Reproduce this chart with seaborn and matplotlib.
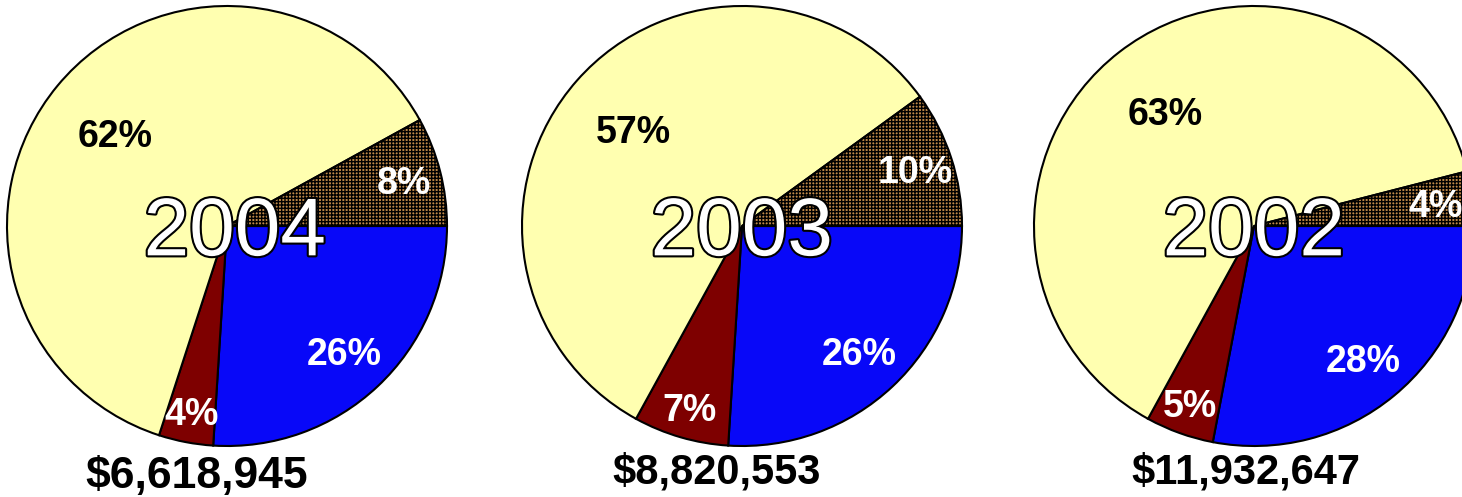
import matplotlib
matplotlib.use("Agg")
import matplotlib.pyplot as plt
import matplotlib.patheffects as pe
import seaborn as sns
import numpy as np

# ---- data ----
years = ["2004", "2003", "2002"]
totals = ["$6,618,945", "$8,820,553", "$11,932,647"]
slice_names = ["Blue", "Red", "Yellow", "Brown"]
share_2004 = [26, 4, 62, 8]
share_2003 = [26, 7, 57, 10]
share_2002 = [28, 5, 63, 4]
shares = [share_2004, share_2003, share_2002]

# ---- style ----
sns.set_theme(style="white")
plt.rcParams["font.family"] = ["Liberation Sans", "DejaVu Sans"]
plt.rcParams["hatch.linewidth"] = 1.0

colors = ["#0808F8", "#7E0000", "#FFFFB0", "#C08848"]
label_colors = ["white", "white", "black", "white"]
label_dist = [0.78, 0.86, 0.66, 0.83]

W, H = 1462, 497
fig = plt.figure(figsize=(W / 100, H / 100), dpi=100)
ax = fig.add_axes([0, 0, 1, 1])

centers_px = [(227, 226), (742, 226), (1254, 226)]
radius = 220
year_dx = [8, 0, 0]
total_x = [197, 717, 1246]
total_base = [488, 483, 483]
total_fs = [32, 30, 30]

pct_fs = 27
year_fs = 59
px_per_pt = 100 / 72
digit_h = 0.716

for vals, year, tot, (cx, cy), ydx, tx, tb, tfs in zip(
        shares, years, totals, centers_px, year_dx, total_x, total_base, total_fs):
    Y = H - cy
    wedges, _ = ax.pie(
        vals, colors=colors, startangle=0, counterclock=False,
        center=(cx, Y), radius=radius,
        wedgeprops=dict(edgecolor="black", linewidth=1.5),
    )
    wedges[3].set_hatch("+++++")
    for w, v, d, lc in zip(wedges, vals, label_dist, label_colors):
        ang = np.deg2rad((w.theta1 + w.theta2) / 2)
        lx = cx + d * radius * np.cos(ang)
        ly = Y + d * radius * np.sin(ang) - pct_fs * px_per_pt * digit_h / 2
        ax.text(lx, ly, f"{v}%", ha="center", va="baseline", fontsize=pct_fs,
                fontweight="bold", color=lc, zorder=5)
    ax.text(cx + ydx, Y - year_fs * px_per_pt * digit_h / 2, year, ha="center",
            va="baseline", fontsize=year_fs, color="white", zorder=6,
            path_effects=[pe.withStroke(linewidth=3, foreground="black")])
    ax.text(tx, H - tb, tot, ha="center", va="baseline", fontsize=tfs,
            fontweight="bold", color="black", zorder=6)

ax.set_xlim(0, W)
ax.set_ylim(0, H)
ax.set_aspect("auto")
ax.axis("off")
fig.savefig("out.png", dpi=100, facecolor="white")
